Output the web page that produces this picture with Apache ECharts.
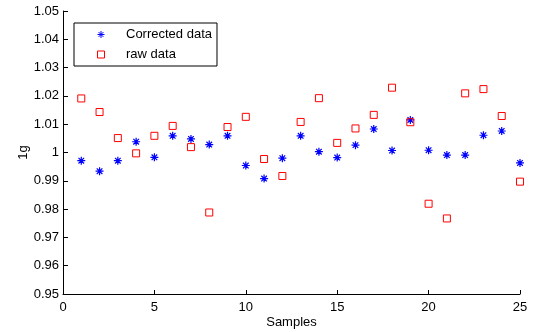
<!DOCTYPE html>
<html><head><meta charset="utf-8">
<script src="https://cdn.jsdelivr.net/npm/echarts@6/dist/echarts.min.js"></script>
<style>html,body{margin:0;padding:0;background:#fff}#c{width:533px;height:332px}</style>
</head><body><div id="c"></div>
<script>
const samples = [1,2,3,4,5,6,7,8,9,10,11,12,13,14,15,16,17,18,19,20,21,22,23,24,25];
const corrected = [0.9971,0.9934,0.9971,1.0038,0.9983,1.0059,1.0048,1.0028,1.0059,0.9954,0.9908,0.9980,1.0059,1.0003,0.9982,1.0026,1.0083,1.0007,1.0115,1.0008,0.9991,0.9991,1.0061,1.0076,0.9963];
const raw = [1.0191,1.0143,1.0051,0.9997,1.0059,1.0094,1.0019,0.9788,1.0090,1.0126,0.9977,0.9917,1.0108,1.0192,1.0034,1.0085,1.0133,1.0229,1.0107,0.9819,0.9767,1.0209,1.0224,1.0129,0.9897];
const xTicks = {min:0, max:25, interval:5};
const yTicks = {min:0.95, max:1.05, interval:0.01};

const FONT = 'Liberation Sans, Arial, Helvetica, sans-serif';
const star = 'path://M0,-10L0,10M-10,0L10,0M-7,-7L7,7M-7,7L7,-7';
const square = 'path://M0,0L10,0L10,10L0,10Z';
const chart = echarts.init(document.getElementById('c'), null, {renderer:'canvas'});
chart.setOption({
  animation:false,
  backgroundColor:'#fff',
  textStyle:{fontFamily:FONT},
  grid:{left:63, right:13, top:11, bottom:38, containLabel:false, outerBoundsMode:'none'},
  legend:{
    left:74, top:23, orient:'vertical',
    padding:[5,5,5,23],
    itemWidth:40, itemHeight:7, itemGap:7,
    symbolKeepAspect:true,
    itemStyle:{borderWidth:1},
    borderColor:'#000', borderWidth:1, borderRadius:0,
    backgroundColor:'#fff',
    textStyle:{fontFamily:FONT, fontSize:13, color:'#000'},
    data:['Corrected data','raw data']
  },
  xAxis:{
    type:'value', min:xTicks.min, max:xTicks.max, interval:xTicks.interval,
    name:'Samples', nameLocation:'middle', nameGap:22, nameMoveOverlap:false,
    nameTextStyle:{fontFamily:FONT, fontSize:13, color:'#000'},
    axisLine:{show:true, onZero:false, lineStyle:{color:'#000', width:1}},
    axisTick:{show:true, inside:true, length:4, lineStyle:{color:'#000'}},
    axisLabel:{fontFamily:FONT, fontSize:13, color:'#000', margin:7},
    splitLine:{show:false}
  },
  yAxis:{
    type:'value', min:yTicks.min, max:yTicks.max, interval:yTicks.interval,
    name:'1g', nameLocation:'middle', nameGap:33, nameRotate:90, nameMoveOverlap:false,
    nameTextStyle:{fontFamily:FONT, fontSize:13, color:'#000'},
    axisLine:{show:true, onZero:false, lineStyle:{color:'#000', width:1}},
    axisTick:{show:true, inside:true, length:5, lineStyle:{color:'#000'}},
    axisLabel:{fontFamily:FONT, fontSize:13, color:'#000', margin:4,
      formatter:function(v){ return (Math.round(v*100)/100).toString(); }},
    splitLine:{show:false}
  },
  series:[
    {name:'Corrected data', type:'scatter', symbol:star, symbolSize:8,
     itemStyle:{color:'rgba(0,0,0,0)', borderColor:'#0000ff', borderWidth:1.2, opacity:1},
     data: samples.map((s,i)=>[s, corrected[i]])},
    {name:'raw data', type:'scatter', symbol:square, symbolSize:7,
     itemStyle:{color:'rgba(255,255,255,0)', borderColor:'#ff0000', borderWidth:1, opacity:1},
     data: samples.map((s,i)=>[s, raw[i]])}
  ]
});
</script></body></html>
